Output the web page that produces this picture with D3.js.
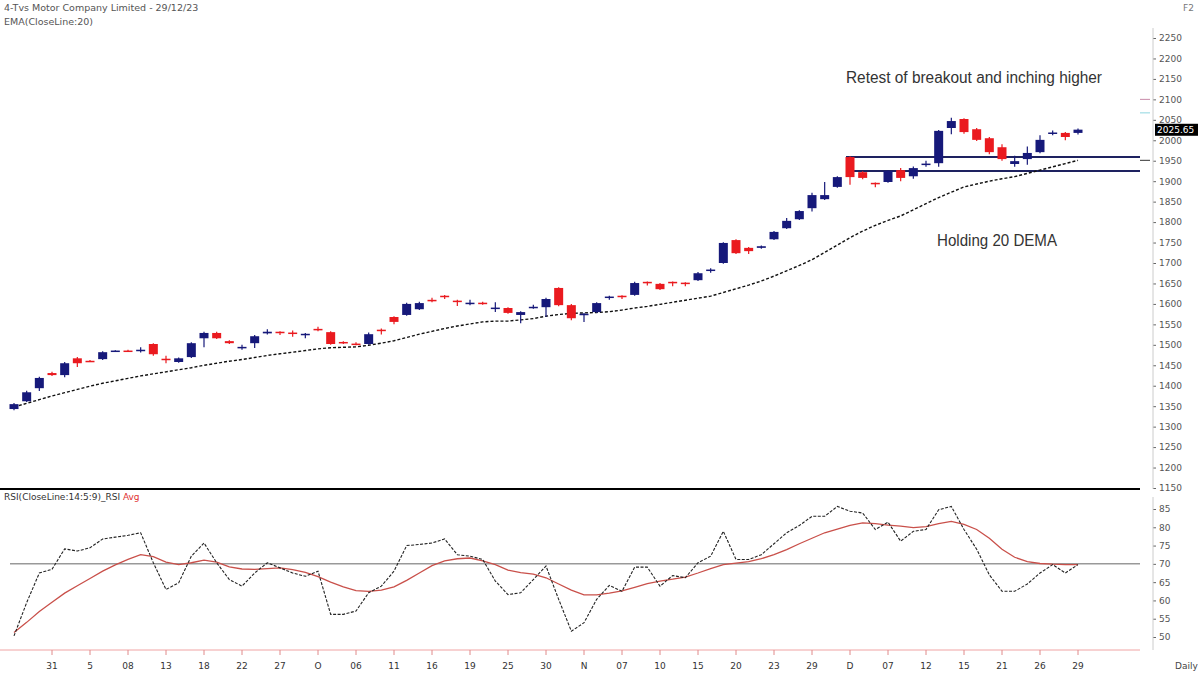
<!DOCTYPE html>
<html>
<head>
<meta charset="utf-8">
<script src="https://cdn.jsdelivr.net/npm/d3@7"></script>
<style>
  body { margin: 0; background: #fff; }
  svg { display: block; font-family: "DejaVu Sans", sans-serif; }
</style>
</head>
<body>
<svg id="chart" width="1198" height="675"></svg>
<script>
// daily candles, 31 Aug 23 .. 29 Dec 23
const opens  = [1343,1362,1394,1431,1426,1467,1461,1465,1485,1486,1486,1502,1466,1458,1470,1516,1529,1509,1493,1504,
                1528,1532,1530,1525,1539,1531,1507,1503,1502,1537,1568,1573,1587,1610,1620,1608,1601,1603,1589,1590,
                1573,1591,1592,1639,1597,1575,1580,1616,1620,1622,1654,1649,1654,1652,1658,1682,1700,1756,1737,1737,
                1758,1785,1807,1834,1856,1886,1959,1922,1896,1898,1927,1912,1941,1944,2030,2052,2027,2005,1983,1942,
                1954,1971,2017,2018,2018];
const closes = [1355,1384,1419,1426,1455,1455,1460,1482,1486,1485,1488,1477,1464,1467,1504,1529,1516,1504,1495,1521,
                1532,1530,1528,1527,1537,1502,1504,1502,1526,1535,1556,1600,1602,1608,1618,1606,1603,1601,1591,1578,
                1580,1593,1612,1597,1565,1576,1602,1618,1618,1651,1652,1636,1652,1650,1675,1684,1749,1724,1729,1741,
                1776,1803,1827,1866,1866,1910,1910,1908,1894,1925,1908,1932,1943,2023,2047,2020,2001,1971,1954,1949,
                1969,2001,2019,2008,2026];
const highs  = [1358,1388,1422,1434,1458,1470,1463,1484,1487,1488,1494,1504,1473,1469,1506,1532,1532,1511,1500,1524,
                1538,1533,1535,1529,1544,1533,1509,1506,1530,1540,1570,1603,1605,1615,1622,1610,1610,1605,1604,1592,
                1582,1598,1615,1641,1600,1578,1604,1620,1621,1654,1655,1651,1655,1653,1678,1687,1751,1758,1739,1743,
                1778,1810,1829,1872,1898,1912,1961,1924,1897,1927,1932,1936,1950,2025,2055,2054,2030,2008,1990,1962,
                1985,2012,2024,2020,2029];
const lows   = [1340,1360,1387,1424,1421,1446,1458,1463,1484,1483,1481,1473,1455,1456,1468,1494,1514,1502,1488,1492,
                1525,1524,1520,1516,1533,1500,1502,1499,1500,1525,1550,1571,1585,1604,1612,1595,1597,1598,1580,1576,
                1553,1588,1568,1594,1560,1556,1578,1610,1612,1620,1645,1634,1643,1643,1656,1676,1698,1722,1722,1735,
                1756,1783,1805,1826,1854,1884,1891,1905,1885,1896,1900,1906,1935,1935,2015,2016,1998,1966,1950,1935,
                1940,1968,2012,2000,2014];

// EMA(Close, 20)
const ema20  = [1348,1357,1366,1375,1383,1391,1399,1406,1412,1418,1424,1429,1434,1439,1444,1450,1455,1460,1464,1469,
                1474,1478,1482,1486,1490,1493,1494,1495,1499,1504,1510,1518,1526,1533,1540,1546,1551,1556,1558,1558,
                1561,1564,1570,1574,1577,1578,1579,1581,1585,1590,1594,1599,1604,1609,1614,1619,1628,1637,1646,1656,
                1668,1681,1694,1708,1726,1744,1762,1778,1792,1804,1815,1830,1845,1860,1873,1886,1893,1900,1906,1911,
                1919,1927,1935,1943,1951];

// RSI(14) and its average
const rsi    = [50.3,59.4,67.5,68.5,74.1,73.5,74.4,76.8,77.3,77.8,78.5,70.3,63.0,64.8,72.1,75.7,70.3,65.7,63.9,67.5,
                70.3,68.9,67.5,66.6,68.0,56.2,56.2,57.1,62.1,63.9,68.0,75.0,75.3,75.7,76.8,72.5,72.1,71.2,65.3,61.6,
                62.1,65.7,69.4,60.3,51.6,53.9,60.3,64.1,62.5,69.1,69.1,63.9,66.8,66.2,70.3,72.1,78.9,71.2,71.2,72.5,
                75.5,78.5,80.5,83.0,83.0,85.7,84.4,83.9,79.4,81.4,76.2,78.9,79.4,84.8,85.7,79.4,74.0,67.0,62.5,62.5,
                64.5,67.5,69.8,67.5,69.8];
const rsiAvg = [51.2,54.0,57.0,59.5,62.0,64.0,66.0,68.0,69.7,71.2,72.5,72.0,70.5,69.8,70.3,71.0,70.5,69.2,68.6,68.5,
                68.7,68.9,68.4,67.7,66.5,65.0,63.7,62.7,62.5,62.8,63.7,65.5,67.5,69.5,70.8,71.4,71.6,70.8,69.8,68.3,
                67.6,67.2,66.2,64.5,62.8,61.5,61.5,62.0,62.6,63.6,64.6,65.3,65.8,66.4,67.5,68.7,69.8,70.2,70.6,71.4,
                72.5,73.9,75.5,77.0,78.5,79.5,80.5,81.2,81.0,80.6,80.3,79.9,80.2,81.0,81.6,80.8,79.4,77.0,74.0,71.8,
                70.6,70.1,69.9,69.8,69.8];

// date labels sit under every third candle
const tickIdx    = d3.range(3, 85, 3);
const tickLabels = ['31','5','08','13','18','22','27','O','06','11','16','19','25','30','N',
                    '07','10','15','20','23','29','D','07','12','15','21','26','29'];

const priceTicks = d3.range(1150, 2251, 50);
const rsiTicks   = d3.range(50, 86, 5);
const breakoutTop = 1959, breakoutBottom = 1925, breakoutStart = 66;
const lastClose = 2025.65;

const svg = d3.select('#chart');
const x  = d3.scaleLinear().domain([0, opens.length - 1]).range([14, 1078]);
const yP = d3.scaleLinear().domain([1150, 2250]).range([488, 38]);
const yR = d3.scaleLinear().domain([50, 85]).range([637, 509]);

const UP = '#16197a', DOWN = '#ea1a1f';

// titles
svg.append('text').attr('x', 4).attr('y', 11).attr('font-size', 9.5).attr('fill', '#555')
  .text('4-Tvs Motor Company Limited - 29/12/23');
svg.append('text').attr('x', 4).attr('y', 25).attr('font-size', 9.5).attr('fill', '#555')
  .text('EMA(CloseLine:20)');
svg.append('text').attr('x', 1183).attr('y', 11).attr('font-size', 9).attr('fill', '#777').text('F2');

// price axis
const pAxis = svg.append('g').attr('transform', 'translate(1153,0)')
  .call(d3.axisRight(yP).tickValues(priceTicks).tickSize(3).tickPadding(3).tickFormat(d3.format('d')));
pAxis.select('.domain').remove();
pAxis.selectAll('text').attr('font-size', 9).attr('fill', '#555').attr('font-family', 'DejaVu Sans');
pAxis.selectAll('line').attr('stroke', '#666');
svg.append('line').attr('x1', 1153).attr('x2', 1153).attr('y1', 28).attr('y2', 489).attr('stroke', '#ccc');

// breakout box
[breakoutTop, breakoutBottom].forEach(v => {
  svg.append('line').attr('x1', x(breakoutStart) - 4).attr('x2', 1140)
    .attr('y1', yP(v)).attr('y2', yP(v)).attr('stroke', '#1e2260').attr('stroke-width', 2);
});

// EMA line
svg.append('path').datum(ema20)
  .attr('fill', 'none').attr('stroke', '#111').attr('stroke-width', 1.4)
  .attr('stroke-dasharray', '3,2')
  .attr('d', d3.line().x((d, i) => x(i)).y(d => yP(d)));

// candles
const candles = svg.append('g').selectAll('g').data(opens.map((o, i) => ({
  i, o, c: closes[i], h: highs[i], l: lows[i]
}))).enter().append('g');
candles.append('line')
  .attr('x1', d => x(d.i)).attr('x2', d => x(d.i))
  .attr('y1', d => yP(d.h)).attr('y2', d => yP(d.l))
  .attr('stroke', d => d.c >= d.o ? UP : DOWN).attr('stroke-width', 1.2);
candles.append('rect')
  .attr('x', d => x(d.i) - 4.5).attr('width', 9)
  .attr('y', d => yP(Math.max(d.o, d.c)))
  .attr('height', d => Math.max(1.5, Math.abs(yP(d.o) - yP(d.c))))
  .attr('fill', d => d.c >= d.o ? UP : DOWN);

// side markers
svg.append('line').attr('x1', 1140).attr('x2', 1150).attr('y1', yP(2100)).attr('y2', yP(2100)).attr('stroke', '#c88aa8');
svg.append('line').attr('x1', 1140).attr('x2', 1150).attr('y1', yP(2067)).attr('y2', yP(2067)).attr('stroke', '#8fd6e0');
svg.append('line').attr('x1', 1140).attr('x2', 1150).attr('y1', yP(ema20[ema20.length - 1])).attr('y2', yP(ema20[ema20.length - 1])).attr('stroke', '#333');

svg.append('rect').attr('x', 1155).attr('y', yP(lastClose) - 6).attr('width', 43).attr('height', 12).attr('fill', '#000');
svg.append('text').attr('x', 1157).attr('y', yP(lastClose) + 3.5).attr('font-size', 9).attr('fill', '#fff')
  .text(lastClose.toFixed(2));

// annotations
svg.append('text').attr('x', 846).attr('y', 83).attr('font-size', 16)
  .attr('font-family', 'Liberation Sans Narrow, Liberation Sans, sans-serif').attr('fill', '#333')
  .attr('textLength', 256).attr('lengthAdjust', 'spacingAndGlyphs')
  .text('Retest of breakout and inching higher');
svg.append('text').attr('x', 937).attr('y', 246).attr('font-size', 16)
  .attr('font-family', 'Liberation Sans Narrow, Liberation Sans, sans-serif').attr('fill', '#333')
  .attr('textLength', 120).attr('lengthAdjust', 'spacingAndGlyphs')
  .text('Holding 20 DEMA');

// panel separator
svg.append('line').attr('x1', 0).attr('x2', 1140).attr('y1', 489).attr('y2', 489).attr('stroke', '#000').attr('stroke-width', 2);

// RSI panel
const rsiTitle = svg.append('text').attr('x', 4).attr('y', 500).attr('font-size', 9).attr('fill', '#333');
rsiTitle.append('tspan').text('RSI(CloseLine:14:5:9)_RSI ');
rsiTitle.append('tspan').attr('fill', '#e03030').text('Avg');

const rAxis = svg.append('g').attr('transform', 'translate(1153,0)')
  .call(d3.axisRight(yR).tickValues(rsiTicks).tickSize(3).tickPadding(3));
rAxis.select('.domain').remove();
rAxis.selectAll('text').attr('font-size', 9).attr('fill', '#555').attr('font-family', 'DejaVu Sans');
rAxis.selectAll('line').attr('stroke', '#666');
svg.append('line').attr('x1', 1153).attr('x2', 1153).attr('y1', 497).attr('y2', 650).attr('stroke', '#ccc');

svg.append('line').attr('x1', 10).attr('x2', 1140).attr('y1', yR(70)).attr('y2', yR(70))
  .attr('stroke', '#999').attr('stroke-width', 1.5);

svg.append('path').datum(rsiAvg)
  .attr('fill', 'none').attr('stroke', '#c9504a').attr('stroke-width', 1.3)
  .attr('d', d3.line().x((d, i) => x(i)).y(d => yR(d)));
svg.append('path').datum(rsi)
  .attr('fill', 'none').attr('stroke', '#222').attr('stroke-width', 1.1)
  .attr('stroke-dasharray', '3,1.5')
  .attr('d', d3.line().x((d, i) => x(i)).y(d => yR(d)));

// date axis
svg.append('line').attr('x1', 0).attr('x2', 1140).attr('y1', 650).attr('y2', 650).attr('stroke', '#f0a4a4');
const xt = svg.append('g').selectAll('g').data(tickIdx).enter().append('g');
xt.append('line').attr('x1', d => x(d)).attr('x2', d => x(d)).attr('y1', 650).attr('y2', 655).attr('stroke', '#e08a8a');
xt.append('text').attr('x', d => x(d)).attr('y', 669).attr('text-anchor', 'middle')
  .attr('font-size', 9).attr('fill', '#333').text((d, k) => tickLabels[k]);
svg.append('text').attr('x', 1175).attr('y', 669).attr('font-size', 9).attr('fill', '#444').text('Daily');
</script>
</body>
</html>
